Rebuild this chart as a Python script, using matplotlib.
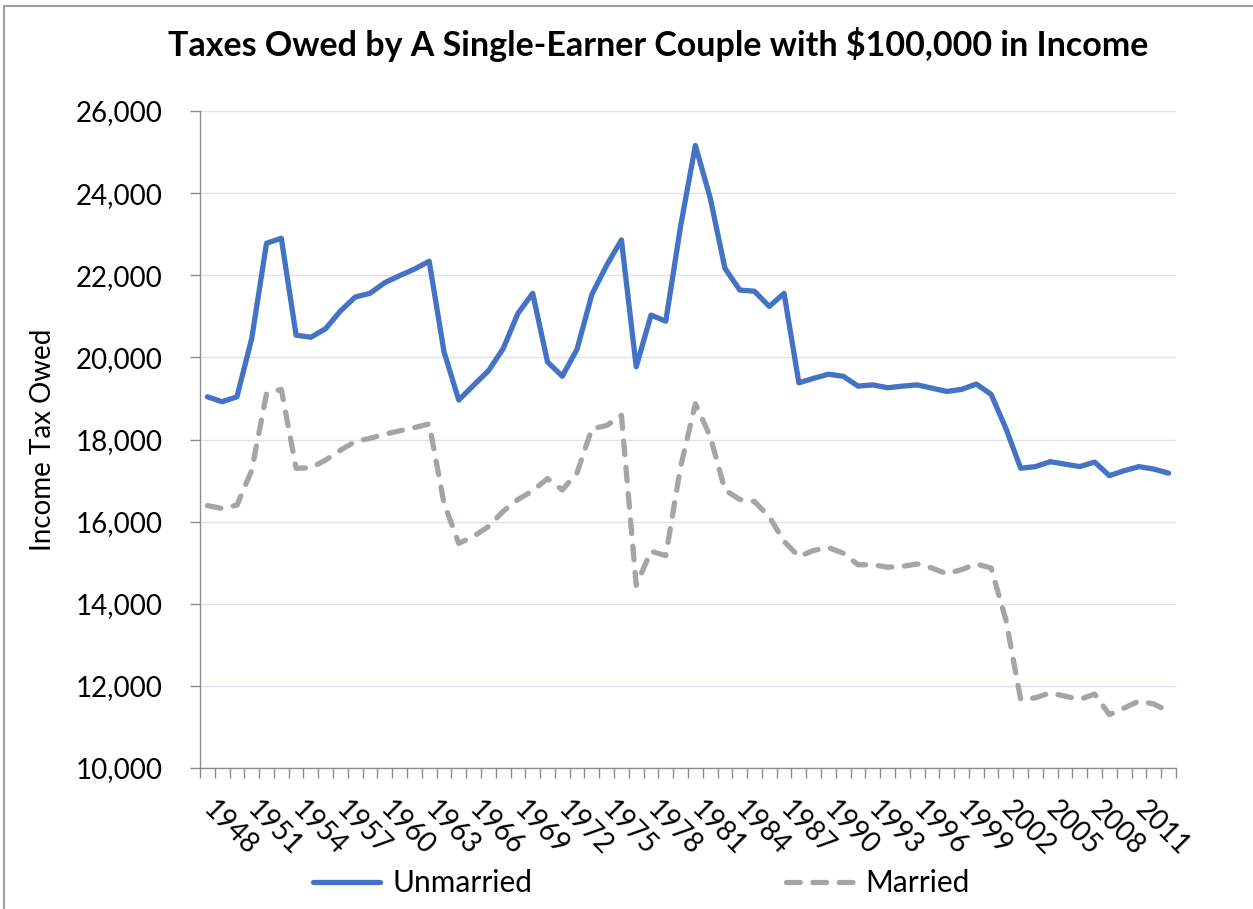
import numpy as np
import matplotlib.pyplot as plt
import matplotlib.ticker as mticker
from matplotlib.patches import Rectangle

# datos
years = list(range(1948, 2014))
unmarried = [19040, 18920, 19040, 20460, 22780, 22900, 20540, 20490, 20700, 21130,
             21470, 21560, 21820, 21990, 22150, 22340, 20140, 18960, 19320, 19670,
             20210, 21070, 21560, 19890, 19540, 20200, 21530, 22240, 22860, 19770,
             21030, 20880, 23190, 25160, 23890, 22170, 21640, 21610, 21240, 21560,
             19380, 19490, 19590, 19540, 19300, 19330, 19260, 19300, 19330, 19250,
             19170, 19220, 19350, 19100, 18270, 17300, 17340, 17460, 17400, 17340,
             17450, 17120, 17240, 17340, 17280, 17180]
married = [16390, 16320, 16400, 17250, 19120, 19220, 17300, 17310, 17500, 17740,
           17950, 18030, 18130, 18210, 18290, 18380, 16450, 15470, 15640, 15880,
           16250, 16540, 16750, 17050, 16770, 17190, 18260, 18340, 18590, 14450,
           15280, 15170, 17330, 18870, 18080, 16770, 16540, 16490, 16120, 15520,
           15150, 15300, 15370, 15230, 14950, 14950, 14890, 14910, 14970, 14870,
           14730, 14830, 14970, 14870, 13610, 11670, 11710, 11830, 11750, 11670,
           11800, 11300, 11460, 11630, 11560, 11380]
label_years = years[::3]

COLOR_UNMARRIED = "#4472C4"
COLOR_MARRIED = "#A5A5A5"
COLOR_GRID = "#D9E1F2"
COLOR_AXIS = "#8C8C8C"
FONT = "Lato"

plt.rcParams["font.family"] = [FONT, "DejaVu Sans"]

fig = plt.figure(figsize=(12.53, 9.09), dpi=100)
ax = fig.add_axes([0.1596, 0.1551, 0.9385 - 0.1596, 0.8779 - 0.1551])

ax.plot(years, unmarried, color=COLOR_UNMARRIED, linewidth=3.8,
        solid_joinstyle="round", solid_capstyle="round", label="Unmarried", zorder=3)
ax.plot(years, married, color=COLOR_MARRIED, linewidth=3.8, dashes=(2.6, 2.4),
        dash_capstyle="round", dash_joinstyle="round", label="Married", zorder=3)

# ejes
ax.set_xlim(years[0] - 0.5, years[-1] + 0.5)
ax.set_ylim(10000, 26000)
ax.yaxis.set_major_locator(mticker.MultipleLocator(2000))
ax.yaxis.set_major_formatter(mticker.FuncFormatter(lambda y, _: f"{y:,.0f}"))

ax.set_xticks(label_years)
ax.set_xticklabels([str(y) for y in label_years], rotation=-45, ha="left",
                   va="center", rotation_mode="anchor")
ax.set_xticks(np.arange(years[0] - 0.5, years[-1] + 1), minor=True)
ax.tick_params(axis="x", which="major", length=0, pad=27, labelsize=20)
ax.tick_params(axis="x", which="minor", length=7, color=COLOR_AXIS, width=1)
ax.tick_params(axis="y", which="major", length=7, color=COLOR_AXIS, width=1,
               labelsize=20, pad=20)

for side in ["top", "right"]:
    ax.spines[side].set_visible(False)
for side in ["left", "bottom"]:
    ax.spines[side].set_color(COLOR_AXIS)
    ax.spines[side].set_linewidth(1)

ax.grid(True, axis="y", color=COLOR_GRID, linewidth=1)
ax.set_axisbelow(True)

ax.set_ylabel("Income Tax Owed", fontsize=20, labelpad=14)
fig.text(0.525, 0.951, "Taxes Owed by A Single-Earner Couple with $100,000 in Income",
         ha="center", va="center", fontsize=24.5, fontweight="bold")

fig.legend(loc="center", bbox_to_anchor=(0.512, 0.0286), ncol=2, frameon=False,
           fontsize=21.5, handlelength=2.25, columnspacing=8.5, handletextpad=0.4)

# marco gris del grafico
fig.patches.append(Rectangle((0.003, -0.01), 1.1, 1.003, transform=fig.transFigure,
                             fill=False, edgecolor="#A0A0A0", linewidth=1.5))

plt.savefig("out.png", dpi=100)
